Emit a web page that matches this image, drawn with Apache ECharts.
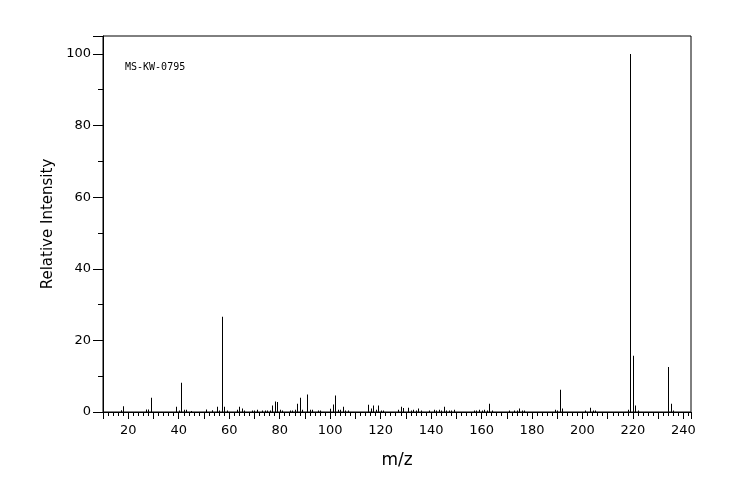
<!DOCTYPE html>
<html>
<head>
<meta charset="utf-8">
<script src="https://cdn.jsdelivr.net/npm/echarts@6/dist/echarts.min.js"></script>
<style>html,body{margin:0;padding:0;background:#fff}#c{width:744px;height:500px}</style>
</head>
<body>
<div id="c"></div>
<script>
const mz = [17,18,27,28,29,39,40,41,42,43,45,51,53,55,56,57,58,59,63,64,65,66,69,70,71,73,74,75,76,77,78,79,80,81,84,85,86,87,88,89,91,92,93,95,96,100,101,102,103,104,105,106,107,115,116,117,118,119,120,121,127,128,129,131,132,133,134,135,136,139,141,142,143,144,145,146,147,148,149,157,158,159,160,161,162,163,164,171,173,174,175,176,177,189,190,191,192,201,203,204,205,218,219,220,221,222,234,235,236];
const intensity = [0.5,1.6,0.7,0.7,4.0,1.5,0.4,8.2,0.6,0.6,0.3,0.7,0.5,1.5,0.4,26.6,1.5,0.4,0.6,1.5,1.0,0.4,0.4,0.4,0.6,0.4,0.4,0.4,0.4,1.8,2.9,2.8,0.6,0.4,0.4,0.4,0.6,2.3,4.0,0.6,4.9,0.6,0.6,0.4,0.4,0.9,2.1,4.6,0.6,0.6,1.5,0.4,0.4,2.0,1.0,1.8,0.6,1.8,0.4,0.4,0.6,1.5,1.1,1.2,0.4,0.6,0.4,1.0,0.4,0.4,0.6,0.4,0.6,0.4,1.5,0.4,0.4,0.4,0.6,0.4,0.4,0.6,0.4,0.6,0.4,2.3,0.4,0.4,0.4,0.4,1.0,0.4,0.4,0.6,0.4,6.2,1.0,0.4,1.2,0.4,0.4,0.6,100,15.7,1.8,0.4,12.6,2.3,0.4];
const xTickLabels = [20,40,60,80,100,120,140,160,180,200,220,240];
const yTickLabels = [0,20,40,60,80,100];
const sampleId = 'MS-KW-0795';

const chart = echarts.init(document.getElementById('c'), null, {renderer: 'canvas'});
const font = 'DejaVu Sans';
chart.setOption({
  animation: false,
  backgroundColor: '#fff',
  grid: {left: 103, right: 53, top: 36, bottom: 88, show: true, borderColor: '#000', borderWidth: 1, backgroundColor: 'transparent'},
  graphic: [{type: 'text', left: 125, top: 62, style: {text: sampleId, font: '10px "DejaVu Sans Mono"', fill: '#000'}}],
  xAxis: {
    type: 'value', min: 10, max: 243, interval: 10,
    name: 'm/z', nameLocation: 'middle', nameGap: 40,
    nameTextStyle: {fontFamily: font, fontSize: 17, color: '#000'},
    axisLine: {show: true, lineStyle: {color: '#000', width: 1}},
    axisTick: {show: true, length: 7, lineStyle: {color: '#000', width: 1}},
    minorTick: {show: true, splitNumber: 5, length: 4, lineStyle: {color: '#000', width: 1}},
    splitLine: {show: false},
    axisLabel: {margin: 12, fontFamily: font, fontSize: 13, color: '#000',
      formatter: v => xTickLabels.includes(v) ? String(v) : ''}
  },
  yAxis: {
    type: 'value', min: 0, max: 105, interval: 20,
    name: 'Relative Intensity', nameLocation: 'middle', nameGap: 46, nameRotate: 90,
    nameTextStyle: {fontFamily: font, fontSize: 15, color: '#000'},
    axisLine: {show: true, lineStyle: {color: '#000', width: 1}},
    axisTick: {show: true, length: 10, lineStyle: {color: '#000', width: 1}},
    minorTick: {show: true, splitNumber: 2, length: 5, lineStyle: {color: '#000', width: 1}},
    splitLine: {show: false},
    axisLabel: {margin: 12, fontFamily: font, fontSize: 13, color: '#000',
      formatter: v => yTickLabels.includes(v) ? String(v) : ''}
  },
  series: [{
    type: 'custom',
    renderItem: function (params, api) {
      const p0 = api.coord([api.value(0), 0]);
      const p1 = api.coord([api.value(0), api.value(1)]);
      const x = Math.round(p0[0]);
      return {type: 'rect', shape: {x: x, y: p1[1], width: 1, height: p0[1] - p1[1]}, style: {fill: '#000'}};
    },
    encode: {x: 0, y: 1},
    data: mz.map((m, i) => [m, intensity[i]])
  }]
});
</script>
</body>
</html>
